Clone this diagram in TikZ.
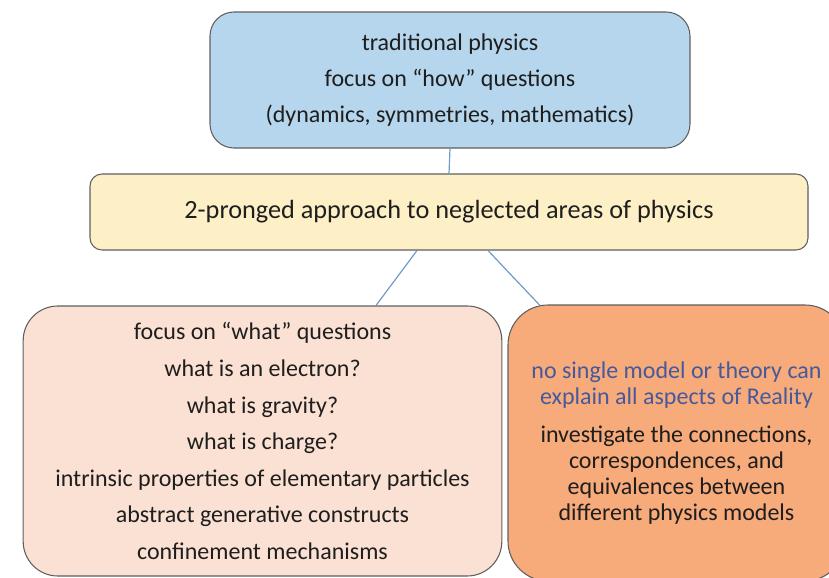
\documentclass[tikz,border=0pt]{standalone}
\usepackage{fontspec}
\setmainfont{Carlito}
\usetikzlibrary{calc}
\definecolor{bluefill}{RGB}{182,214,238}
\definecolor{yellowfill}{RGB}{253,239,198}
\definecolor{pinkfill}{RGB}{251,225,211}
\definecolor{orangefill}{RGB}{247,170,122}
\definecolor{boxline}{RGB}{95,95,95}
\definecolor{linkblue}{RGB}{110,155,200}
\definecolor{textblue}{RGB}{70,90,155}
\definecolor{txt}{RGB}{30,30,30}
\tikzset{
  box/.style={draw=boxline, line width=0.8pt, align=center, text=txt, inner sep=0pt},
  link/.style={draw=linkblue, line width=0.9pt}
}
\begin{document}
\begin{tikzpicture}[x=0.75pt,y=-0.75pt]
\useasboundingbox (0,0) rectangle (829,578);
\begin{scope}
\clip (0,0) rectangle (829,578);
\node[box, fill=bluefill, rounded corners=18pt, minimum width=360pt, minimum height=102pt,
  font=\fontsize{18}{27}\selectfont] (top) at (450,80)
  {traditional physics\\focus on “how” questions\\(dynamics, symmetries, mathematics)};
\node[box, fill=yellowfill, rounded corners=9pt, minimum width=538.5pt, minimum height=57pt,
  font=\fontsize{19.7}{22}\selectfont] (mid) at (449,212)
  {2-pronged approach to neglected areas of physics};
\node[box, fill=pinkfill, rounded corners=26pt, minimum width=359pt, minimum height=202.5pt,
  font=\fontsize{18}{27.4}\selectfont] (left) at (262.5,441)
  {focus on “what” questions\\what is an electron?\\what is gravity?\\what is charge?\\intrinsic properties of elementary particles\\abstract generative constructs\\confinement mechanisms};
\node[box, fill=orangefill, rounded corners=30pt, minimum width=252.75pt, minimum height=207pt,
  font=\fontsize{18}{19.5}\selectfont] (right) at (676.5,443)
  {\textcolor{textblue}{no single model or theory can}\\\textcolor{textblue}{explain all aspects of Reality}\\[9pt]investigate the connections,\\correspondences, and\\equivalences between\\different physics models};
\draw[link] (top.south) -- (mid.north);
\draw[link] ($(mid.south)+(-32,0)$) -- ($(left.north)+(113.5,0)$);
\draw[link] ($(mid.south)+(39,0)$) -- ($(right.north)+(-136.5,1)$);
\end{scope}
\end{tikzpicture}
\end{document}
